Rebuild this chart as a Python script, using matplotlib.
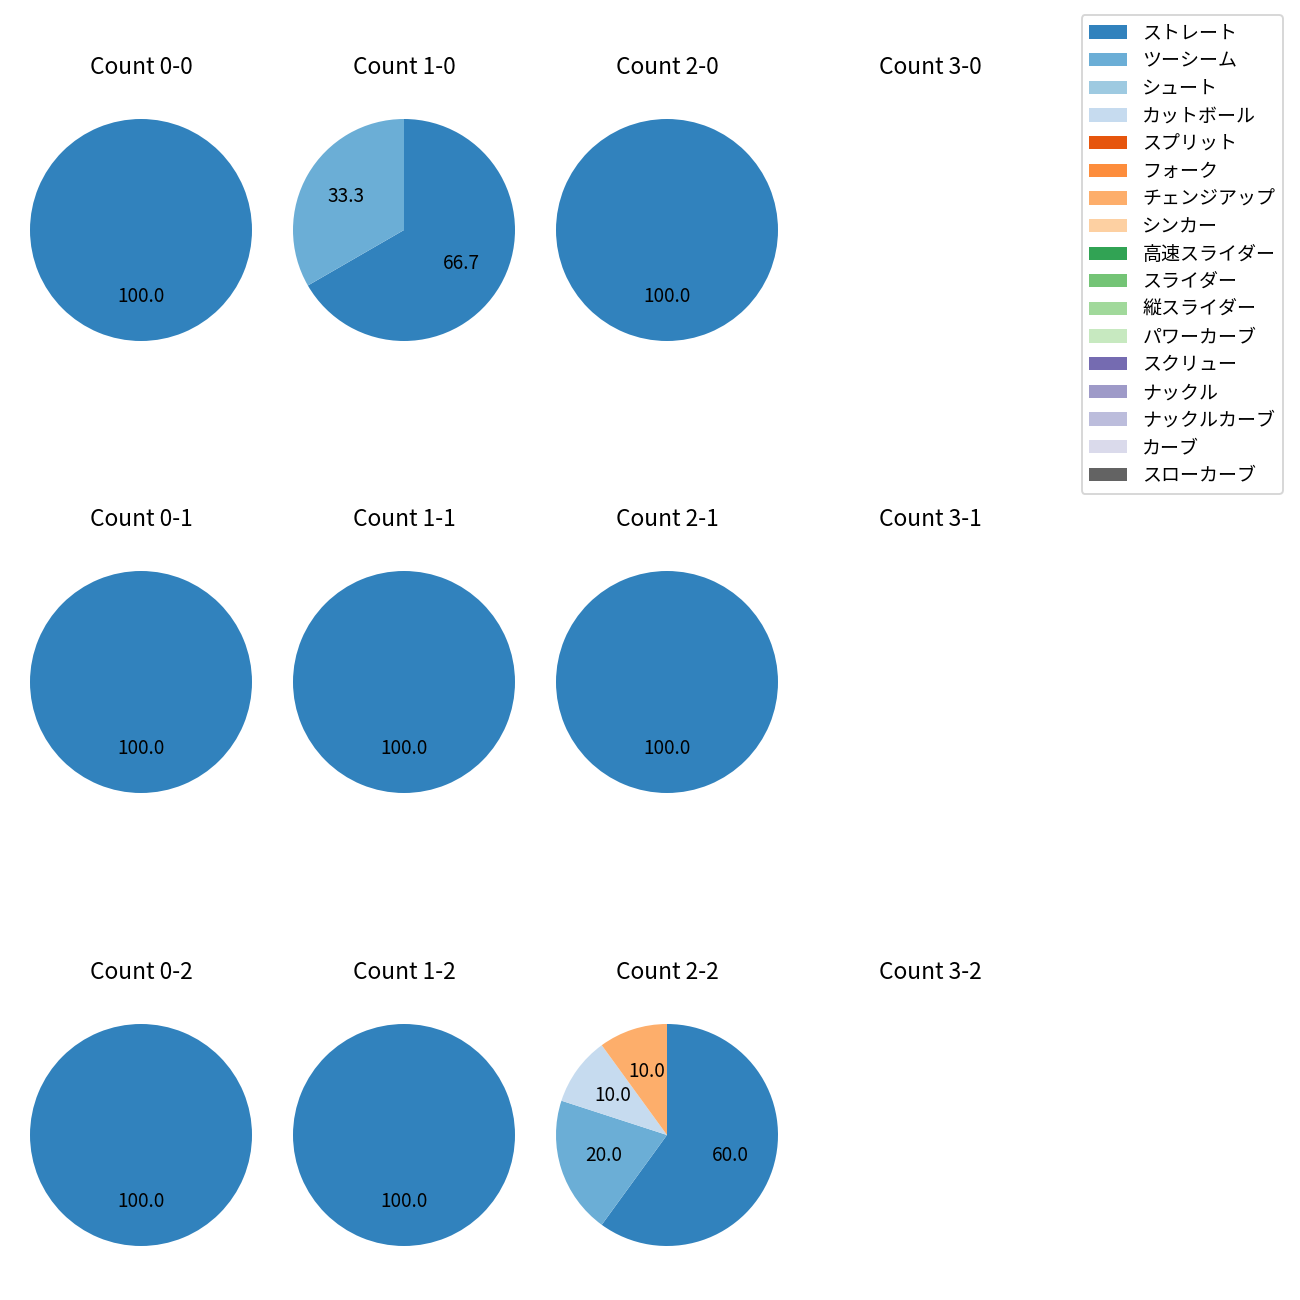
import numpy as np
import matplotlib
matplotlib.use("Agg")
import matplotlib.pyplot as plt
from matplotlib.patches import Patch

plt.rcParams['font.family'] = ['Noto Sans CJK JP', 'DejaVu Sans']

pitch_types = ['ストレート', 'ツーシーム', 'シュート', 'カットボール', 'スプリット',
               'フォーク', 'チェンジアップ', 'シンカー', '高速スライダー', 'スライダー',
               '縦スライダー', 'パワーカーブ', 'スクリュー', 'ナックル', 'ナックルカーブ',
               'カーブ', 'スローカーブ']

# pitch counts per ball-strike count, in the order of pitch_types
counts = {
    '0-0': [1, 0, 0, 0, 0, 0, 0],
    '1-0': [2, 1, 0, 0, 0, 0, 0],
    '2-0': [1, 0, 0, 0, 0, 0, 0],
    '3-0': [],
    '0-1': [1, 0, 0, 0, 0, 0, 0],
    '1-1': [1, 0, 0, 0, 0, 0, 0],
    '2-1': [1, 0, 0, 0, 0, 0, 0],
    '3-1': [],
    '0-2': [1, 0, 0, 0, 0, 0, 0],
    '1-2': [1, 0, 0, 0, 0, 0, 0],
    '2-2': [6, 2, 0, 1, 0, 0, 1],
    '3-2': [],
}

colors = plt.cm.tab20c(np.arange(len(pitch_types)))

fig = plt.figure(figsize=(9.5, 9.5), dpi=1300 / 9.5)

W = 277.5 / 1300
xc = [141, 404, 667, 930]
yc = [230, 682, 1135]

for strikes in range(3):
    for balls in range(4):
        key = '%d-%d' % (balls, strikes)
        cx = xc[balls] / 1300
        cy = 1 - yc[strikes] / 1300
        ax = fig.add_axes([cx - W / 2, cy - W / 2, W, W])
        vals = counts[key]
        if sum(vals) > 0:
            idx = [i for i, v in enumerate(vals) if v > 0]
            ax.pie([vals[i] for i in idx], colors=[colors[i] for i in idx],
                   autopct='%.1f', startangle=90, counterclock=False)
        else:
            ax.set_xlim(-1.25, 1.25)
            ax.set_ylim(-1.25, 1.25)
            ax.set_aspect('equal')
            ax.axis('off')
        ax.set_title('Count ' + key, pad=9)

handles = [Patch(facecolor=colors[i], label=pitch_types[i]) for i in range(len(pitch_types))]
fig.legend(handles=handles, loc='upper right', labelspacing=0.35, borderaxespad=0,
           bbox_to_anchor=(1283 / 1300, 1 - 15 / 1300))

fig.savefig('out.png')
